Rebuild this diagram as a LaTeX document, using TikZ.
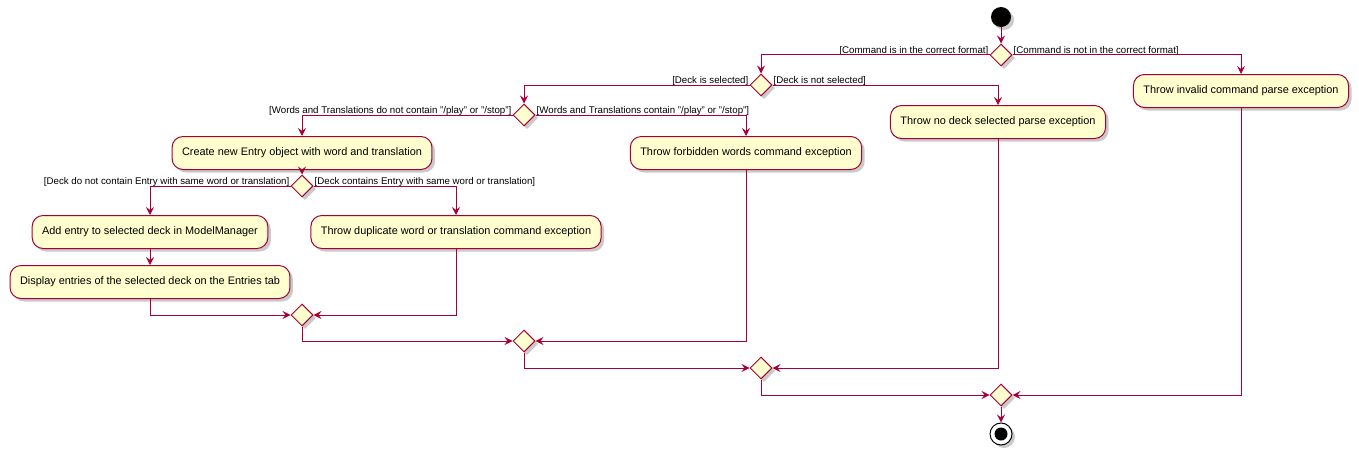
\documentclass[tikz,border=0pt]{standalone}
\usepackage{fontspec}
\setmainfont{Liberation Sans}
\usetikzlibrary{shapes.geometric,arrows.meta,shadows}
\definecolor{pred}{HTML}{A80036}
\definecolor{pfill}{HTML}{FEFECE}
\tikzset{
  x=1pt,y=-1pt,
  shd/.style={drop shadow={shadow xshift=3pt,shadow yshift=-3pt,fill=black!35,opacity=.6}},
  act/.style={draw=pred,fill=pfill,rounded corners=11pt,line width=1pt,minimum height=33pt,inner xsep=10pt,font=\fontsize{10.9}{13}\selectfont,shd},
  dia/.style={draw=pred,fill=pfill,diamond,line width=1pt,minimum width=22pt,minimum height=22pt,inner sep=0pt,shd},
  arr/.style={draw=pred,line width=1pt,-{Stealth[length=8pt,width=8pt,inset=3pt]}},
  grd/.style={font=\fontsize{9.7}{12}\selectfont,inner sep=1pt,yshift=-1.5pt},
}
\begin{document}
\begin{tikzpicture}
\useasboundingbox (0,0) rectangle (1359,452);
% start
\node[circle,fill=black,minimum size=20pt,inner sep=0pt,shd] (start) at (1001,17) {};
\node[dia] (d1) at (1001,55) {};
\node[dia] (d2) at (761,85) {};
\node[dia] (d3) at (524,115) {};
\node[dia] (d4) at (302,186) {};
\node[act] (inv) at (1241,91) {Throw invalid command parse exception};
\node[act] (nodeck) at (998,122) {Throw no deck selected parse exception};
\node[act] (create) at (302,153) {Create new Entry object with word and translation};
\node[act] (forb) at (746,153) {Throw forbidden words command exception};
\node[act] (add) at (150,232) {Add entry to selected deck in ModelManager};
\node[act] (dup) at (456,232) {Throw duplicate word or translation command exception};
\node[act] (disp) at (150,282) {Display entries of the selected deck on the Entries tab};
\node[dia] (m5) at (302,315) {};
\node[dia] (m6) at (524,341) {};
\node[dia] (m7) at (761,368) {};
\node[dia] (m8) at (1001,395) {};
\node[circle,draw=black,fill=white,line width=1pt,minimum size=22pt,inner sep=0pt,shd] (stop) at (1001,434) {};
\node[circle,fill=black,minimum size=13pt,inner sep=0pt] (stopin) at (stop.center) {};
% guards
\node[grd,anchor=south east] (g1l) at (d1.west) {[Command is in the correct format]};
\node[grd,anchor=south west] (g1r) at (d1.east) {[Command is not in the correct format]};
\node[grd,anchor=south east] (g2l) at (d2.west) {[Deck is selected]};
\node[grd,anchor=south west] (g2r) at (d2.east) {[Deck is not selected]};
\node[grd,anchor=south east] (g3l) at (d3.west) {[Words and Translations do not contain "/play" or "/stop"]};
\node[grd,anchor=south west] (g3r) at (d3.east) {[Words and Translations contain "/play" or "/stop"]};
\node[grd,anchor=south east] (g4l) at (d4.west) {[Deck do not contain Entry with same word or translation]};
\node[grd,anchor=south west] (g4r) at (d4.east) {[Deck contains Entry with same word or translation]};
% connectors
\draw[arr] (start) -- (d1);
\draw[arr] (d1.west) -| (d2.north);
\draw[arr] (d1.east) -| (inv.north);
\draw[arr] (d2.west) -| (d3.north);
\draw[arr] (d2.east) -| (nodeck.north);
\draw[arr] (d3.west) -| (create.north);
\draw[arr] (d3.east) -| (forb.north);
\draw[arr] (create) -- (d4);
\draw[arr] (d4.west) -| (add.north);
\draw[arr] (d4.east) -| (dup.north);
\draw[arr] (add) -- (disp);
\draw[arr] (disp.south) |- (m5.west);
\draw[arr] (dup.south) |- (m5.east);
\draw[arr] (m5.south) |- (m6.west);
\draw[arr] (forb.south) |- (m6.east);
\draw[arr] (m6.south) |- (m7.west);
\draw[arr] (nodeck.south) |- (m7.east);
\draw[arr] (m7.south) |- (m8.west);
\draw[arr] (inv.south) |- (m8.east);
\draw[arr] (m8) -- (stop);
\end{tikzpicture}
\end{document}
